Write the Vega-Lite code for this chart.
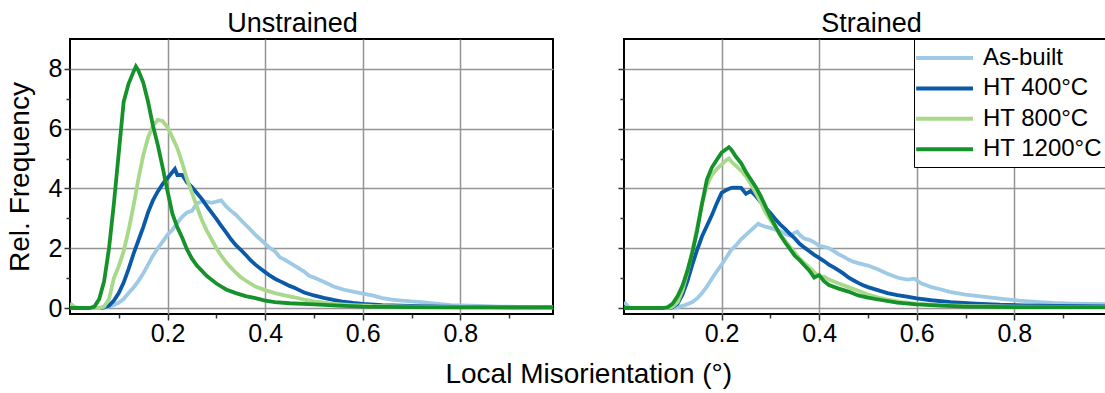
{
  "$schema": "https://vega.github.io/schema/vega-lite/v6.json",
  "background": "white",
  "padding": {"left": 5, "top": 8, "right": 0, "bottom": 2},
  "config": {
    "font": "Liberation Sans",
    "view": {"stroke": "black", "strokeWidth": 2},
    "axis": {
      "domain": false,
      "gridColor": "#959595",
      "gridWidth": 1.5,
      "tickColor": "#333333",
      "tickWidth": 1.5,
      "labelFont": "Liberation Sans",
      "labelFontSize": 25,
      "labelColor": "black",
      "labelOverlap": false,
      "labelFlush": false,
      "titleFont": "Liberation Sans",
      "titleFontSize": 28,
      "titleFontWeight": "normal",
      "titleColor": "black"
    },
    "title": {"font": "Liberation Sans", "fontSize": 27, "fontWeight": "normal", "color": "black"}
  },
  "title": {"text": "Local Misorientation (°)", "orient": "bottom", "anchor": "middle", "fontSize": 28, "dx": 32, "offset": 14},
  "datasets": {
    "unstrained": [
      {"series": "As-built", "x": 0.0, "y": 0.15}, {"series": "As-built", "x": 0.01, "y": 0.02}, {"series": "As-built", "x": 0.02, "y": 0}, {"series": "As-built", "x": 0.06, "y": 0}, {"series": "As-built", "x": 0.07, "y": 0.01}, {"series": "As-built", "x": 0.08, "y": 0.05}, {"series": "As-built", "x": 0.09, "y": 0.1}, {"series": "As-built", "x": 0.1, "y": 0.18}, {"series": "As-built", "x": 0.11, "y": 0.3}, {"series": "As-built", "x": 0.12, "y": 0.5}, {"series": "As-built", "x": 0.13, "y": 0.68}, {"series": "As-built", "x": 0.14, "y": 0.9}, {"series": "As-built", "x": 0.15, "y": 1.15}, {"series": "As-built", "x": 0.16, "y": 1.45}, {"series": "As-built", "x": 0.17, "y": 1.75}, {"series": "As-built", "x": 0.18, "y": 2.0}, {"series": "As-built", "x": 0.19, "y": 2.22}, {"series": "As-built", "x": 0.2, "y": 2.45}, {"series": "As-built", "x": 0.21, "y": 2.62}, {"series": "As-built", "x": 0.22, "y": 2.85}, {"series": "As-built", "x": 0.23, "y": 3.05}, {"series": "As-built", "x": 0.24, "y": 3.2}, {"series": "As-built", "x": 0.25, "y": 3.25}, {"series": "As-built", "x": 0.26, "y": 3.5}, {"series": "As-built", "x": 0.27, "y": 3.57}, {"series": "As-built", "x": 0.28, "y": 3.56}, {"series": "As-built", "x": 0.29, "y": 3.52}, {"series": "As-built", "x": 0.3, "y": 3.56}, {"series": "As-built", "x": 0.31, "y": 3.6}, {"series": "As-built", "x": 0.32, "y": 3.4}, {"series": "As-built", "x": 0.33, "y": 3.25}, {"series": "As-built", "x": 0.34, "y": 3.12}, {"series": "As-built", "x": 0.35, "y": 2.95}, {"series": "As-built", "x": 0.36, "y": 2.78}, {"series": "As-built", "x": 0.37, "y": 2.62}, {"series": "As-built", "x": 0.38, "y": 2.45}, {"series": "As-built", "x": 0.39, "y": 2.3}, {"series": "As-built", "x": 0.4, "y": 2.15}, {"series": "As-built", "x": 0.41, "y": 2.0}, {"series": "As-built", "x": 0.42, "y": 1.9}, {"series": "As-built", "x": 0.43, "y": 1.7}, {"series": "As-built", "x": 0.44, "y": 1.62}, {"series": "As-built", "x": 0.45, "y": 1.52}, {"series": "As-built", "x": 0.46, "y": 1.42}, {"series": "As-built", "x": 0.47, "y": 1.32}, {"series": "As-built", "x": 0.48, "y": 1.22}, {"series": "As-built", "x": 0.49, "y": 1.08}, {"series": "As-built", "x": 0.5, "y": 1.02}, {"series": "As-built", "x": 0.52, "y": 0.88}, {"series": "As-built", "x": 0.54, "y": 0.72}, {"series": "As-built", "x": 0.56, "y": 0.62}, {"series": "As-built", "x": 0.58, "y": 0.55}, {"series": "As-built", "x": 0.6, "y": 0.48}, {"series": "As-built", "x": 0.62, "y": 0.42}, {"series": "As-built", "x": 0.64, "y": 0.33}, {"series": "As-built", "x": 0.66, "y": 0.28}, {"series": "As-built", "x": 0.68, "y": 0.25}, {"series": "As-built", "x": 0.7, "y": 0.22}, {"series": "As-built", "x": 0.72, "y": 0.2}, {"series": "As-built", "x": 0.74, "y": 0.16}, {"series": "As-built", "x": 0.76, "y": 0.13}, {"series": "As-built", "x": 0.78, "y": 0.1}, {"series": "As-built", "x": 0.8, "y": 0.09}, {"series": "As-built", "x": 0.84, "y": 0.07}, {"series": "As-built", "x": 0.88, "y": 0.05}, {"series": "As-built", "x": 0.92, "y": 0.04}, {"series": "As-built", "x": 0.96, "y": 0.03}, {"series": "As-built", "x": 0.99, "y": 0.03},
      {"series": "HT 400°C", "x": 0.0, "y": 0}, {"series": "HT 400°C", "x": 0.06, "y": 0}, {"series": "HT 400°C", "x": 0.07, "y": 0.02}, {"series": "HT 400°C", "x": 0.08, "y": 0.08}, {"series": "HT 400°C", "x": 0.09, "y": 0.25}, {"series": "HT 400°C", "x": 0.1, "y": 0.5}, {"series": "HT 400°C", "x": 0.11, "y": 0.85}, {"series": "HT 400°C", "x": 0.12, "y": 1.3}, {"series": "HT 400°C", "x": 0.13, "y": 1.8}, {"series": "HT 400°C", "x": 0.14, "y": 2.25}, {"series": "HT 400°C", "x": 0.15, "y": 2.7}, {"series": "HT 400°C", "x": 0.16, "y": 3.2}, {"series": "HT 400°C", "x": 0.17, "y": 3.6}, {"series": "HT 400°C", "x": 0.18, "y": 3.9}, {"series": "HT 400°C", "x": 0.19, "y": 4.15}, {"series": "HT 400°C", "x": 0.2, "y": 4.35}, {"series": "HT 400°C", "x": 0.21, "y": 4.55}, {"series": "HT 400°C", "x": 0.215, "y": 4.65}, {"series": "HT 400°C", "x": 0.22, "y": 4.45}, {"series": "HT 400°C", "x": 0.23, "y": 4.45}, {"series": "HT 400°C", "x": 0.24, "y": 4.2}, {"series": "HT 400°C", "x": 0.25, "y": 4.05}, {"series": "HT 400°C", "x": 0.26, "y": 3.85}, {"series": "HT 400°C", "x": 0.27, "y": 3.65}, {"series": "HT 400°C", "x": 0.28, "y": 3.42}, {"series": "HT 400°C", "x": 0.29, "y": 3.2}, {"series": "HT 400°C", "x": 0.3, "y": 2.98}, {"series": "HT 400°C", "x": 0.31, "y": 2.75}, {"series": "HT 400°C", "x": 0.32, "y": 2.53}, {"series": "HT 400°C", "x": 0.33, "y": 2.3}, {"series": "HT 400°C", "x": 0.34, "y": 2.1}, {"series": "HT 400°C", "x": 0.35, "y": 1.95}, {"series": "HT 400°C", "x": 0.36, "y": 1.78}, {"series": "HT 400°C", "x": 0.37, "y": 1.6}, {"series": "HT 400°C", "x": 0.38, "y": 1.45}, {"series": "HT 400°C", "x": 0.39, "y": 1.32}, {"series": "HT 400°C", "x": 0.4, "y": 1.2}, {"series": "HT 400°C", "x": 0.41, "y": 1.08}, {"series": "HT 400°C", "x": 0.42, "y": 0.98}, {"series": "HT 400°C", "x": 0.43, "y": 0.9}, {"series": "HT 400°C", "x": 0.44, "y": 0.82}, {"series": "HT 400°C", "x": 0.45, "y": 0.74}, {"series": "HT 400°C", "x": 0.46, "y": 0.68}, {"series": "HT 400°C", "x": 0.47, "y": 0.6}, {"series": "HT 400°C", "x": 0.48, "y": 0.52}, {"series": "HT 400°C", "x": 0.49, "y": 0.47}, {"series": "HT 400°C", "x": 0.5, "y": 0.42}, {"series": "HT 400°C", "x": 0.52, "y": 0.34}, {"series": "HT 400°C", "x": 0.54, "y": 0.27}, {"series": "HT 400°C", "x": 0.56, "y": 0.21}, {"series": "HT 400°C", "x": 0.58, "y": 0.17}, {"series": "HT 400°C", "x": 0.6, "y": 0.14}, {"series": "HT 400°C", "x": 0.64, "y": 0.1}, {"series": "HT 400°C", "x": 0.68, "y": 0.08}, {"series": "HT 400°C", "x": 0.72, "y": 0.06}, {"series": "HT 400°C", "x": 0.76, "y": 0.05}, {"series": "HT 400°C", "x": 0.8, "y": 0.04}, {"series": "HT 400°C", "x": 0.86, "y": 0.03}, {"series": "HT 400°C", "x": 0.92, "y": 0.02}, {"series": "HT 400°C", "x": 0.99, "y": 0.02},
      {"series": "HT 800°C", "x": 0.0, "y": 0.15}, {"series": "HT 800°C", "x": 0.01, "y": 0.02}, {"series": "HT 800°C", "x": 0.02, "y": 0}, {"series": "HT 800°C", "x": 0.06, "y": 0}, {"series": "HT 800°C", "x": 0.07, "y": 0.05}, {"series": "HT 800°C", "x": 0.08, "y": 0.3}, {"series": "HT 800°C", "x": 0.09, "y": 1.0}, {"series": "HT 800°C", "x": 0.1, "y": 1.4}, {"series": "HT 800°C", "x": 0.11, "y": 1.9}, {"series": "HT 800°C", "x": 0.12, "y": 2.6}, {"series": "HT 800°C", "x": 0.13, "y": 3.4}, {"series": "HT 800°C", "x": 0.14, "y": 4.3}, {"series": "HT 800°C", "x": 0.15, "y": 5.1}, {"series": "HT 800°C", "x": 0.16, "y": 5.7}, {"series": "HT 800°C", "x": 0.17, "y": 6.1}, {"series": "HT 800°C", "x": 0.18, "y": 6.3}, {"series": "HT 800°C", "x": 0.19, "y": 6.25}, {"series": "HT 800°C", "x": 0.2, "y": 6.05}, {"series": "HT 800°C", "x": 0.21, "y": 5.7}, {"series": "HT 800°C", "x": 0.22, "y": 5.35}, {"series": "HT 800°C", "x": 0.23, "y": 4.85}, {"series": "HT 800°C", "x": 0.24, "y": 4.3}, {"series": "HT 800°C", "x": 0.25, "y": 3.85}, {"series": "HT 800°C", "x": 0.26, "y": 3.4}, {"series": "HT 800°C", "x": 0.27, "y": 2.95}, {"series": "HT 800°C", "x": 0.28, "y": 2.6}, {"series": "HT 800°C", "x": 0.29, "y": 2.3}, {"series": "HT 800°C", "x": 0.3, "y": 2.0}, {"series": "HT 800°C", "x": 0.31, "y": 1.75}, {"series": "HT 800°C", "x": 0.32, "y": 1.53}, {"series": "HT 800°C", "x": 0.33, "y": 1.35}, {"series": "HT 800°C", "x": 0.34, "y": 1.18}, {"series": "HT 800°C", "x": 0.35, "y": 1.03}, {"series": "HT 800°C", "x": 0.36, "y": 0.92}, {"series": "HT 800°C", "x": 0.38, "y": 0.72}, {"series": "HT 800°C", "x": 0.4, "y": 0.6}, {"series": "HT 800°C", "x": 0.42, "y": 0.5}, {"series": "HT 800°C", "x": 0.44, "y": 0.42}, {"series": "HT 800°C", "x": 0.46, "y": 0.36}, {"series": "HT 800°C", "x": 0.48, "y": 0.28}, {"series": "HT 800°C", "x": 0.5, "y": 0.22}, {"series": "HT 800°C", "x": 0.54, "y": 0.14}, {"series": "HT 800°C", "x": 0.58, "y": 0.1}, {"series": "HT 800°C", "x": 0.62, "y": 0.07}, {"series": "HT 800°C", "x": 0.7, "y": 0.05}, {"series": "HT 800°C", "x": 0.8, "y": 0.03}, {"series": "HT 800°C", "x": 0.9, "y": 0.02}, {"series": "HT 800°C", "x": 0.99, "y": 0.02},
      {"series": "HT 1200°C", "x": 0.0, "y": 0}, {"series": "HT 1200°C", "x": 0.04, "y": 0}, {"series": "HT 1200°C", "x": 0.05, "y": 0.05}, {"series": "HT 1200°C", "x": 0.06, "y": 0.3}, {"series": "HT 1200°C", "x": 0.07, "y": 0.9}, {"series": "HT 1200°C", "x": 0.08, "y": 2.0}, {"series": "HT 1200°C", "x": 0.09, "y": 3.5}, {"series": "HT 1200°C", "x": 0.1, "y": 5.2}, {"series": "HT 1200°C", "x": 0.11, "y": 6.9}, {"series": "HT 1200°C", "x": 0.12, "y": 7.5}, {"series": "HT 1200°C", "x": 0.13, "y": 7.9}, {"series": "HT 1200°C", "x": 0.135, "y": 8.08}, {"series": "HT 1200°C", "x": 0.14, "y": 7.95}, {"series": "HT 1200°C", "x": 0.15, "y": 7.55}, {"series": "HT 1200°C", "x": 0.16, "y": 6.9}, {"series": "HT 1200°C", "x": 0.17, "y": 6.1}, {"series": "HT 1200°C", "x": 0.18, "y": 5.45}, {"series": "HT 1200°C", "x": 0.19, "y": 4.7}, {"series": "HT 1200°C", "x": 0.2, "y": 3.9}, {"series": "HT 1200°C", "x": 0.21, "y": 3.15}, {"series": "HT 1200°C", "x": 0.22, "y": 2.7}, {"series": "HT 1200°C", "x": 0.23, "y": 2.35}, {"series": "HT 1200°C", "x": 0.24, "y": 1.95}, {"series": "HT 1200°C", "x": 0.25, "y": 1.65}, {"series": "HT 1200°C", "x": 0.26, "y": 1.42}, {"series": "HT 1200°C", "x": 0.27, "y": 1.25}, {"series": "HT 1200°C", "x": 0.28, "y": 1.08}, {"series": "HT 1200°C", "x": 0.29, "y": 0.95}, {"series": "HT 1200°C", "x": 0.3, "y": 0.82}, {"series": "HT 1200°C", "x": 0.31, "y": 0.72}, {"series": "HT 1200°C", "x": 0.32, "y": 0.62}, {"series": "HT 1200°C", "x": 0.34, "y": 0.5}, {"series": "HT 1200°C", "x": 0.36, "y": 0.4}, {"series": "HT 1200°C", "x": 0.38, "y": 0.33}, {"series": "HT 1200°C", "x": 0.4, "y": 0.25}, {"series": "HT 1200°C", "x": 0.42, "y": 0.2}, {"series": "HT 1200°C", "x": 0.45, "y": 0.16}, {"series": "HT 1200°C", "x": 0.49, "y": 0.13}, {"series": "HT 1200°C", "x": 0.55, "y": 0.08}, {"series": "HT 1200°C", "x": 0.6, "y": 0.05}, {"series": "HT 1200°C", "x": 0.7, "y": 0.03}, {"series": "HT 1200°C", "x": 0.8, "y": 0.02}, {"series": "HT 1200°C", "x": 0.99, "y": 0.02}
    ],
    "strained": [
      {"series": "As-built", "x": 0.0, "y": 0.2}, {"series": "As-built", "x": 0.01, "y": 0.02}, {"series": "As-built", "x": 0.02, "y": 0}, {"series": "As-built", "x": 0.1, "y": 0}, {"series": "As-built", "x": 0.11, "y": 0.03}, {"series": "As-built", "x": 0.12, "y": 0.07}, {"series": "As-built", "x": 0.13, "y": 0.13}, {"series": "As-built", "x": 0.14, "y": 0.2}, {"series": "As-built", "x": 0.15, "y": 0.32}, {"series": "As-built", "x": 0.16, "y": 0.5}, {"series": "As-built", "x": 0.17, "y": 0.72}, {"series": "As-built", "x": 0.18, "y": 0.98}, {"series": "As-built", "x": 0.19, "y": 1.22}, {"series": "As-built", "x": 0.2, "y": 1.45}, {"series": "As-built", "x": 0.21, "y": 1.7}, {"series": "As-built", "x": 0.22, "y": 1.95}, {"series": "As-built", "x": 0.23, "y": 2.1}, {"series": "As-built", "x": 0.24, "y": 2.3}, {"series": "As-built", "x": 0.25, "y": 2.45}, {"series": "As-built", "x": 0.26, "y": 2.6}, {"series": "As-built", "x": 0.27, "y": 2.75}, {"series": "As-built", "x": 0.275, "y": 2.82}, {"series": "As-built", "x": 0.28, "y": 2.78}, {"series": "As-built", "x": 0.29, "y": 2.72}, {"series": "As-built", "x": 0.3, "y": 2.68}, {"series": "As-built", "x": 0.31, "y": 2.62}, {"series": "As-built", "x": 0.32, "y": 2.58}, {"series": "As-built", "x": 0.33, "y": 2.48}, {"series": "As-built", "x": 0.34, "y": 2.42}, {"series": "As-built", "x": 0.35, "y": 2.52}, {"series": "As-built", "x": 0.355, "y": 2.55}, {"series": "As-built", "x": 0.36, "y": 2.45}, {"series": "As-built", "x": 0.37, "y": 2.32}, {"series": "As-built", "x": 0.38, "y": 2.28}, {"series": "As-built", "x": 0.39, "y": 2.2}, {"series": "As-built", "x": 0.4, "y": 2.08}, {"series": "As-built", "x": 0.41, "y": 2.05}, {"series": "As-built", "x": 0.42, "y": 2.0}, {"series": "As-built", "x": 0.43, "y": 1.9}, {"series": "As-built", "x": 0.44, "y": 1.8}, {"series": "As-built", "x": 0.45, "y": 1.72}, {"series": "As-built", "x": 0.46, "y": 1.62}, {"series": "As-built", "x": 0.47, "y": 1.55}, {"series": "As-built", "x": 0.48, "y": 1.5}, {"series": "As-built", "x": 0.49, "y": 1.46}, {"series": "As-built", "x": 0.5, "y": 1.42}, {"series": "As-built", "x": 0.52, "y": 1.3}, {"series": "As-built", "x": 0.54, "y": 1.15}, {"series": "As-built", "x": 0.56, "y": 1.02}, {"series": "As-built", "x": 0.58, "y": 0.95}, {"series": "As-built", "x": 0.595, "y": 0.98}, {"series": "As-built", "x": 0.61, "y": 0.82}, {"series": "As-built", "x": 0.63, "y": 0.7}, {"series": "As-built", "x": 0.65, "y": 0.62}, {"series": "As-built", "x": 0.67, "y": 0.53}, {"series": "As-built", "x": 0.7, "y": 0.45}, {"series": "As-built", "x": 0.74, "y": 0.37}, {"series": "As-built", "x": 0.78, "y": 0.3}, {"series": "As-built", "x": 0.81, "y": 0.25}, {"series": "As-built", "x": 0.85, "y": 0.2}, {"series": "As-built", "x": 0.88, "y": 0.17}, {"series": "As-built", "x": 0.92, "y": 0.15}, {"series": "As-built", "x": 0.96, "y": 0.14}, {"series": "As-built", "x": 0.99, "y": 0.13},
      {"series": "HT 400°C", "x": 0.0, "y": 0}, {"series": "HT 400°C", "x": 0.09, "y": 0}, {"series": "HT 400°C", "x": 0.1, "y": 0.03}, {"series": "HT 400°C", "x": 0.11, "y": 0.15}, {"series": "HT 400°C", "x": 0.12, "y": 0.45}, {"series": "HT 400°C", "x": 0.13, "y": 0.9}, {"series": "HT 400°C", "x": 0.14, "y": 1.45}, {"series": "HT 400°C", "x": 0.15, "y": 1.95}, {"series": "HT 400°C", "x": 0.16, "y": 2.4}, {"series": "HT 400°C", "x": 0.17, "y": 2.75}, {"series": "HT 400°C", "x": 0.18, "y": 3.1}, {"series": "HT 400°C", "x": 0.19, "y": 3.5}, {"series": "HT 400°C", "x": 0.2, "y": 3.85}, {"series": "HT 400°C", "x": 0.21, "y": 3.95}, {"series": "HT 400°C", "x": 0.22, "y": 4.02}, {"series": "HT 400°C", "x": 0.23, "y": 4.03}, {"series": "HT 400°C", "x": 0.24, "y": 4.02}, {"series": "HT 400°C", "x": 0.25, "y": 3.82}, {"series": "HT 400°C", "x": 0.26, "y": 3.92}, {"series": "HT 400°C", "x": 0.27, "y": 3.75}, {"series": "HT 400°C", "x": 0.28, "y": 3.55}, {"series": "HT 400°C", "x": 0.29, "y": 3.35}, {"series": "HT 400°C", "x": 0.3, "y": 3.18}, {"series": "HT 400°C", "x": 0.31, "y": 2.98}, {"series": "HT 400°C", "x": 0.32, "y": 2.8}, {"series": "HT 400°C", "x": 0.33, "y": 2.65}, {"series": "HT 400°C", "x": 0.34, "y": 2.48}, {"series": "HT 400°C", "x": 0.35, "y": 2.33}, {"series": "HT 400°C", "x": 0.36, "y": 2.15}, {"series": "HT 400°C", "x": 0.37, "y": 2.02}, {"series": "HT 400°C", "x": 0.38, "y": 1.9}, {"series": "HT 400°C", "x": 0.39, "y": 1.78}, {"series": "HT 400°C", "x": 0.4, "y": 1.68}, {"series": "HT 400°C", "x": 0.41, "y": 1.57}, {"series": "HT 400°C", "x": 0.42, "y": 1.45}, {"series": "HT 400°C", "x": 0.43, "y": 1.36}, {"series": "HT 400°C", "x": 0.44, "y": 1.26}, {"series": "HT 400°C", "x": 0.45, "y": 1.15}, {"series": "HT 400°C", "x": 0.46, "y": 1.02}, {"series": "HT 400°C", "x": 0.47, "y": 0.93}, {"series": "HT 400°C", "x": 0.48, "y": 0.84}, {"series": "HT 400°C", "x": 0.49, "y": 0.76}, {"series": "HT 400°C", "x": 0.5, "y": 0.7}, {"series": "HT 400°C", "x": 0.52, "y": 0.6}, {"series": "HT 400°C", "x": 0.54, "y": 0.5}, {"series": "HT 400°C", "x": 0.56, "y": 0.43}, {"series": "HT 400°C", "x": 0.58, "y": 0.38}, {"series": "HT 400°C", "x": 0.6, "y": 0.32}, {"series": "HT 400°C", "x": 0.63, "y": 0.26}, {"series": "HT 400°C", "x": 0.67, "y": 0.2}, {"series": "HT 400°C", "x": 0.72, "y": 0.15}, {"series": "HT 400°C", "x": 0.77, "y": 0.11}, {"series": "HT 400°C", "x": 0.82, "y": 0.09}, {"series": "HT 400°C", "x": 0.88, "y": 0.07}, {"series": "HT 400°C", "x": 0.94, "y": 0.06}, {"series": "HT 400°C", "x": 0.99, "y": 0.05},
      {"series": "HT 800°C", "x": 0.0, "y": 0}, {"series": "HT 800°C", "x": 0.09, "y": 0}, {"series": "HT 800°C", "x": 0.1, "y": 0.05}, {"series": "HT 800°C", "x": 0.11, "y": 0.2}, {"series": "HT 800°C", "x": 0.12, "y": 0.6}, {"series": "HT 800°C", "x": 0.13, "y": 1.2}, {"series": "HT 800°C", "x": 0.14, "y": 1.9}, {"series": "HT 800°C", "x": 0.15, "y": 2.7}, {"series": "HT 800°C", "x": 0.16, "y": 3.5}, {"series": "HT 800°C", "x": 0.17, "y": 4.1}, {"series": "HT 800°C", "x": 0.18, "y": 4.45}, {"series": "HT 800°C", "x": 0.19, "y": 4.65}, {"series": "HT 800°C", "x": 0.2, "y": 4.8}, {"series": "HT 800°C", "x": 0.21, "y": 4.95}, {"series": "HT 800°C", "x": 0.215, "y": 5.0}, {"series": "HT 800°C", "x": 0.22, "y": 4.9}, {"series": "HT 800°C", "x": 0.23, "y": 4.75}, {"series": "HT 800°C", "x": 0.24, "y": 4.6}, {"series": "HT 800°C", "x": 0.25, "y": 4.4}, {"series": "HT 800°C", "x": 0.26, "y": 4.15}, {"series": "HT 800°C", "x": 0.27, "y": 3.85}, {"series": "HT 800°C", "x": 0.28, "y": 3.55}, {"series": "HT 800°C", "x": 0.29, "y": 3.2}, {"series": "HT 800°C", "x": 0.3, "y": 2.95}, {"series": "HT 800°C", "x": 0.31, "y": 2.7}, {"series": "HT 800°C", "x": 0.32, "y": 2.45}, {"series": "HT 800°C", "x": 0.33, "y": 2.25}, {"series": "HT 800°C", "x": 0.34, "y": 2.05}, {"series": "HT 800°C", "x": 0.35, "y": 1.85}, {"series": "HT 800°C", "x": 0.36, "y": 1.65}, {"series": "HT 800°C", "x": 0.37, "y": 1.5}, {"series": "HT 800°C", "x": 0.38, "y": 1.35}, {"series": "HT 800°C", "x": 0.39, "y": 1.2}, {"series": "HT 800°C", "x": 0.4, "y": 1.05}, {"series": "HT 800°C", "x": 0.41, "y": 1.05}, {"series": "HT 800°C", "x": 0.42, "y": 0.95}, {"series": "HT 800°C", "x": 0.44, "y": 0.82}, {"series": "HT 800°C", "x": 0.46, "y": 0.7}, {"series": "HT 800°C", "x": 0.48, "y": 0.58}, {"series": "HT 800°C", "x": 0.5, "y": 0.45}, {"series": "HT 800°C", "x": 0.52, "y": 0.36}, {"series": "HT 800°C", "x": 0.54, "y": 0.28}, {"series": "HT 800°C", "x": 0.57, "y": 0.2}, {"series": "HT 800°C", "x": 0.6, "y": 0.14}, {"series": "HT 800°C", "x": 0.65, "y": 0.1}, {"series": "HT 800°C", "x": 0.7, "y": 0.07}, {"series": "HT 800°C", "x": 0.8, "y": 0.05}, {"series": "HT 800°C", "x": 0.9, "y": 0.04}, {"series": "HT 800°C", "x": 0.99, "y": 0.04},
      {"series": "HT 1200°C", "x": 0.0, "y": 0}, {"series": "HT 1200°C", "x": 0.08, "y": 0}, {"series": "HT 1200°C", "x": 0.09, "y": 0.03}, {"series": "HT 1200°C", "x": 0.1, "y": 0.15}, {"series": "HT 1200°C", "x": 0.11, "y": 0.4}, {"series": "HT 1200°C", "x": 0.12, "y": 0.75}, {"series": "HT 1200°C", "x": 0.13, "y": 1.25}, {"series": "HT 1200°C", "x": 0.14, "y": 1.85}, {"series": "HT 1200°C", "x": 0.15, "y": 2.6}, {"series": "HT 1200°C", "x": 0.16, "y": 3.5}, {"series": "HT 1200°C", "x": 0.17, "y": 4.3}, {"series": "HT 1200°C", "x": 0.18, "y": 4.7}, {"series": "HT 1200°C", "x": 0.19, "y": 4.95}, {"series": "HT 1200°C", "x": 0.2, "y": 5.2}, {"series": "HT 1200°C", "x": 0.21, "y": 5.32}, {"series": "HT 1200°C", "x": 0.215, "y": 5.38}, {"series": "HT 1200°C", "x": 0.22, "y": 5.3}, {"series": "HT 1200°C", "x": 0.23, "y": 5.05}, {"series": "HT 1200°C", "x": 0.24, "y": 4.85}, {"series": "HT 1200°C", "x": 0.25, "y": 4.55}, {"series": "HT 1200°C", "x": 0.26, "y": 4.3}, {"series": "HT 1200°C", "x": 0.27, "y": 4.05}, {"series": "HT 1200°C", "x": 0.28, "y": 3.75}, {"series": "HT 1200°C", "x": 0.29, "y": 3.4}, {"series": "HT 1200°C", "x": 0.3, "y": 3.05}, {"series": "HT 1200°C", "x": 0.31, "y": 2.75}, {"series": "HT 1200°C", "x": 0.32, "y": 2.45}, {"series": "HT 1200°C", "x": 0.33, "y": 2.2}, {"series": "HT 1200°C", "x": 0.34, "y": 1.98}, {"series": "HT 1200°C", "x": 0.35, "y": 1.75}, {"series": "HT 1200°C", "x": 0.36, "y": 1.6}, {"series": "HT 1200°C", "x": 0.37, "y": 1.42}, {"series": "HT 1200°C", "x": 0.38, "y": 1.25}, {"series": "HT 1200°C", "x": 0.39, "y": 1.02}, {"series": "HT 1200°C", "x": 0.4, "y": 1.1}, {"series": "HT 1200°C", "x": 0.41, "y": 0.9}, {"series": "HT 1200°C", "x": 0.42, "y": 0.77}, {"series": "HT 1200°C", "x": 0.44, "y": 0.65}, {"series": "HT 1200°C", "x": 0.46, "y": 0.55}, {"series": "HT 1200°C", "x": 0.48, "y": 0.42}, {"series": "HT 1200°C", "x": 0.5, "y": 0.35}, {"series": "HT 1200°C", "x": 0.53, "y": 0.26}, {"series": "HT 1200°C", "x": 0.56, "y": 0.18}, {"series": "HT 1200°C", "x": 0.6, "y": 0.12}, {"series": "HT 1200°C", "x": 0.65, "y": 0.08}, {"series": "HT 1200°C", "x": 0.7, "y": 0.05}, {"series": "HT 1200°C", "x": 0.8, "y": 0.03}, {"series": "HT 1200°C", "x": 0.9, "y": 0.03}, {"series": "HT 1200°C", "x": 0.99, "y": 0.03}
    ]
  },
  "spacing": 62,
  "resolve": {"legend": {"color": "independent"}},
  "hconcat": [
    {
      "width": 483,
      "height": 275,
      "title": {"text": "Unstrained", "frame": "group", "anchor": "middle", "baseline": "alphabetic", "offset": -20, "dx": -19},
      "data": {"name": "unstrained"},
      "mark": {"type": "line", "strokeWidth": 3.8, "clip": true},
      "encoding": {
        "x": {
          "field": "x", "type": "quantitative",
          "scale": {"domain": [0, 0.99], "nice": false, "zero": false},
          "axis": {
            "title": null, "values": [0.1, 0.2, 0.3, 0.4, 0.5, 0.6, 0.7, 0.8, 0.9], "format": ".1f", "labelPadding": 1,
            "labelExpr": "indexof([2,4,6,8], round(datum.value*10)) >= 0 ? datum.label : ''",
            "tickSize": {"condition": {"test": "indexof([2,4,6,8], round(datum.value*10)) >= 0", "value": 6}, "value": 4},
            "gridOpacity": {"condition": {"test": "indexof([2,4,6,8], round(datum.value*10)) >= 0", "value": 1}, "value": 0}
          }
        },
        "y": {
          "field": "y", "type": "quantitative",
          "scale": {"domain": [-0.2, 9], "nice": false, "zero": false},
          "axis": {
            "title": "Rel. Frequency", "titlePadding": 14, "values": [0, 1, 2, 3, 4, 5, 6, 7, 8], "labelPadding": 2,
            "labelExpr": "indexof([0,2,4,6,8], datum.value) >= 0 ? datum.label : ''",
            "tickSize": {"condition": {"test": "indexof([0,2,4,6,8], datum.value) >= 0", "value": 6}, "value": 4},
            "gridOpacity": {"condition": {"test": "indexof([0,2,4,6,8], datum.value) >= 0", "value": 1}, "value": 0}
          }
        },
        "color": {
          "field": "series", "type": "nominal",
          "scale": {"domain": ["As-built", "HT 400°C", "HT 800°C", "HT 1200°C"], "range": ["#9ecae6", "#0b5aa8", "#a8d88a", "#15922a"]},
          "legend": null
        }
      }
    },
    {
      "width": 483,
      "height": 275,
      "title": {"text": "Strained", "frame": "group", "anchor": "middle", "baseline": "alphabetic", "offset": -20, "dx": 6},
      "data": {"name": "strained"},
      "mark": {"type": "line", "strokeWidth": 3.8, "clip": true},
      "encoding": {
        "x": {
          "field": "x", "type": "quantitative",
          "scale": {"domain": [0, 0.99], "nice": false, "zero": false},
          "axis": {
            "title": null, "values": [0.1, 0.2, 0.3, 0.4, 0.5, 0.6, 0.7, 0.8, 0.9], "format": ".1f", "labelPadding": 1,
            "labelExpr": "indexof([2,4,6,8], round(datum.value*10)) >= 0 ? datum.label : ''",
            "tickSize": {"condition": {"test": "indexof([2,4,6,8], round(datum.value*10)) >= 0", "value": 6}, "value": 4},
            "gridOpacity": {"condition": {"test": "indexof([2,4,6,8], round(datum.value*10)) >= 0", "value": 1}, "value": 0}
          }
        },
        "y": {
          "field": "y", "type": "quantitative",
          "scale": {"domain": [-0.2, 9], "nice": false, "zero": false},
          "axis": {
            "title": null, "labels": false, "values": [0, 1, 2, 3, 4, 5, 6, 7, 8],
            "tickSize": {"condition": {"test": "indexof([0,2,4,6,8], datum.value) >= 0", "value": 6}, "value": 4},
            "gridOpacity": {"condition": {"test": "indexof([0,2,4,6,8], datum.value) >= 0", "value": 1}, "value": 0}
          }
        },
        "color": {
          "field": "series", "type": "nominal",
          "scale": {"domain": ["As-built", "HT 400°C", "HT 800°C", "HT 1200°C"], "range": ["#9ecae6", "#0b5aa8", "#a8d88a", "#15922a"]},
          "legend": {
            "title": null, "orient": "top-right", "offset": 0,
            "strokeColor": "black", "fillColor": "white", "padding": 5,
            "symbolType": "M-1.45,0H3.45", "symbolSize": 538, "symbolStrokeWidth": 4,
            "labelFont": "Liberation Sans", "labelFontSize": 24, "labelColor": "black", "labelOffset": 36, "rowPadding": 4.4
          }
        }
      }
    }
  ]
}
